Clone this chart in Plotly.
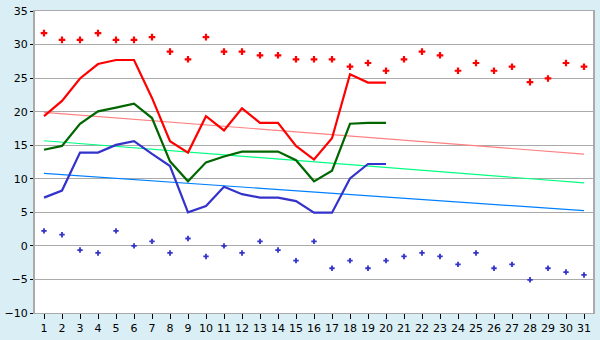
import plotly.graph_objects as go

days = list(range(1, 32))
tick_labels = [str(d) for d in days]

record_max = [31.7, 30.7, 30.7, 31.7, 30.7, 30.7, 31.1, 28.95, 27.8, 31.1,
              28.95, 28.95, 28.4, 28.4, 27.8, 27.8, 27.8, 26.7, 27.25, 26.1,
              27.8, 28.95, 28.4, 26.1, 27.25, 26.1, 26.7, 24.4, 24.95, 27.25, 26.7]
record_min = [2.24, 1.67, -0.62, -1.05, 2.24, 0.0, 0.67, -1.05, 1.1, -1.57,
              0.0, -1.05, 0.67, -0.62, -2.19, 0.67, -3.33, -2.19, -3.33, -2.19,
              -1.57, -1.05, -1.57, -2.76, -1.05, -3.33, -2.76, -5.05, -3.33, -3.9, -4.33]

obs_days = list(range(1, 21))
tmax = [19.33, 21.6, 24.95, 27.1, 27.7, 27.7, 22.05, 15.6, 13.9, 19.33,
        17.2, 20.5, 18.33, 18.33, 14.9, 12.86, 16.05, 25.57, 24.33, 24.33]
tavg = [14.33, 14.9, 18.2, 20.05, 20.6, 21.2, 19.05, 12.6, 9.62, 12.45,
        13.33, 14.05, 14.05, 14.05, 12.76, 9.62, 11.2, 18.2, 18.33, 18.33]
tmin = [7.19, 8.24, 13.9, 13.9, 15.05, 15.6, 13.7, 11.9, 5.0, 5.95,
        8.81, 7.71, 7.19, 7.19, 6.67, 4.95, 4.95, 10.05, 12.2, 12.2]

trend_days = [1, 31]
trend_max = [19.9, 13.67]
trend_avg = [15.67, 9.38]
trend_min = [10.81, 5.24]

fig = go.Figure()
fig.add_trace(go.Scatter(x=trend_days, y=trend_max, mode="lines",
                         line=dict(color="#FF8080", width=1.2)))
fig.add_trace(go.Scatter(x=trend_days, y=trend_avg, mode="lines",
                         line=dict(color="#00FF80", width=1.2)))
fig.add_trace(go.Scatter(x=trend_days, y=trend_min, mode="lines",
                         line=dict(color="#0080FF", width=1.2)))
fig.add_trace(go.Scatter(x=obs_days, y=tmax, mode="lines",
                         line=dict(color="#FF0000", width=2.2)))
fig.add_trace(go.Scatter(x=obs_days, y=tavg, mode="lines",
                         line=dict(color="#006600", width=2.2)))
fig.add_trace(go.Scatter(x=obs_days, y=tmin, mode="lines",
                         line=dict(color="#3333CC", width=2.2)))
fig.add_trace(go.Scatter(x=days, y=record_max, mode="markers",
                         marker=dict(symbol="cross", size=5.5, color="#FF0000",
                                     line=dict(width=0))))
fig.add_trace(go.Scatter(x=days, y=record_min, mode="markers",
                         marker=dict(symbol="cross", size=4.5, color="#3333CC",
                                     line=dict(width=0))))

fig.update_layout(
    width=600, height=340,
    margin=dict(l=27, r=5, t=5, b=20),
    paper_bgcolor="#DAEFF5",
    plot_bgcolor="#FFFFFF",
    showlegend=False,
    font=dict(family="DejaVu Sans", size=11, color="#000000"),
)
fig.update_xaxes(
    range=[0.5, 31.5], tickmode="array", tickvals=days, ticktext=tick_labels,
    showgrid=False, zeroline=False, ticks="outside", ticklen=5, tickcolor="#000000",
    showline=True, linecolor="#AAAAAA", linewidth=1, mirror=True,
    ticklabeloverflow="allow",
)
fig.update_yaxes(
    range=[-10, 35], dtick=5, showgrid=True, gridcolor="#AAAAAA", gridwidth=1,
    zeroline=False, ticks="outside", ticklen=3, tickcolor="#000000",
    showline=True, linecolor="#AAAAAA", linewidth=2, mirror=True,
    ticklabeloverflow="allow",
)

fig.write_html("out.html")
